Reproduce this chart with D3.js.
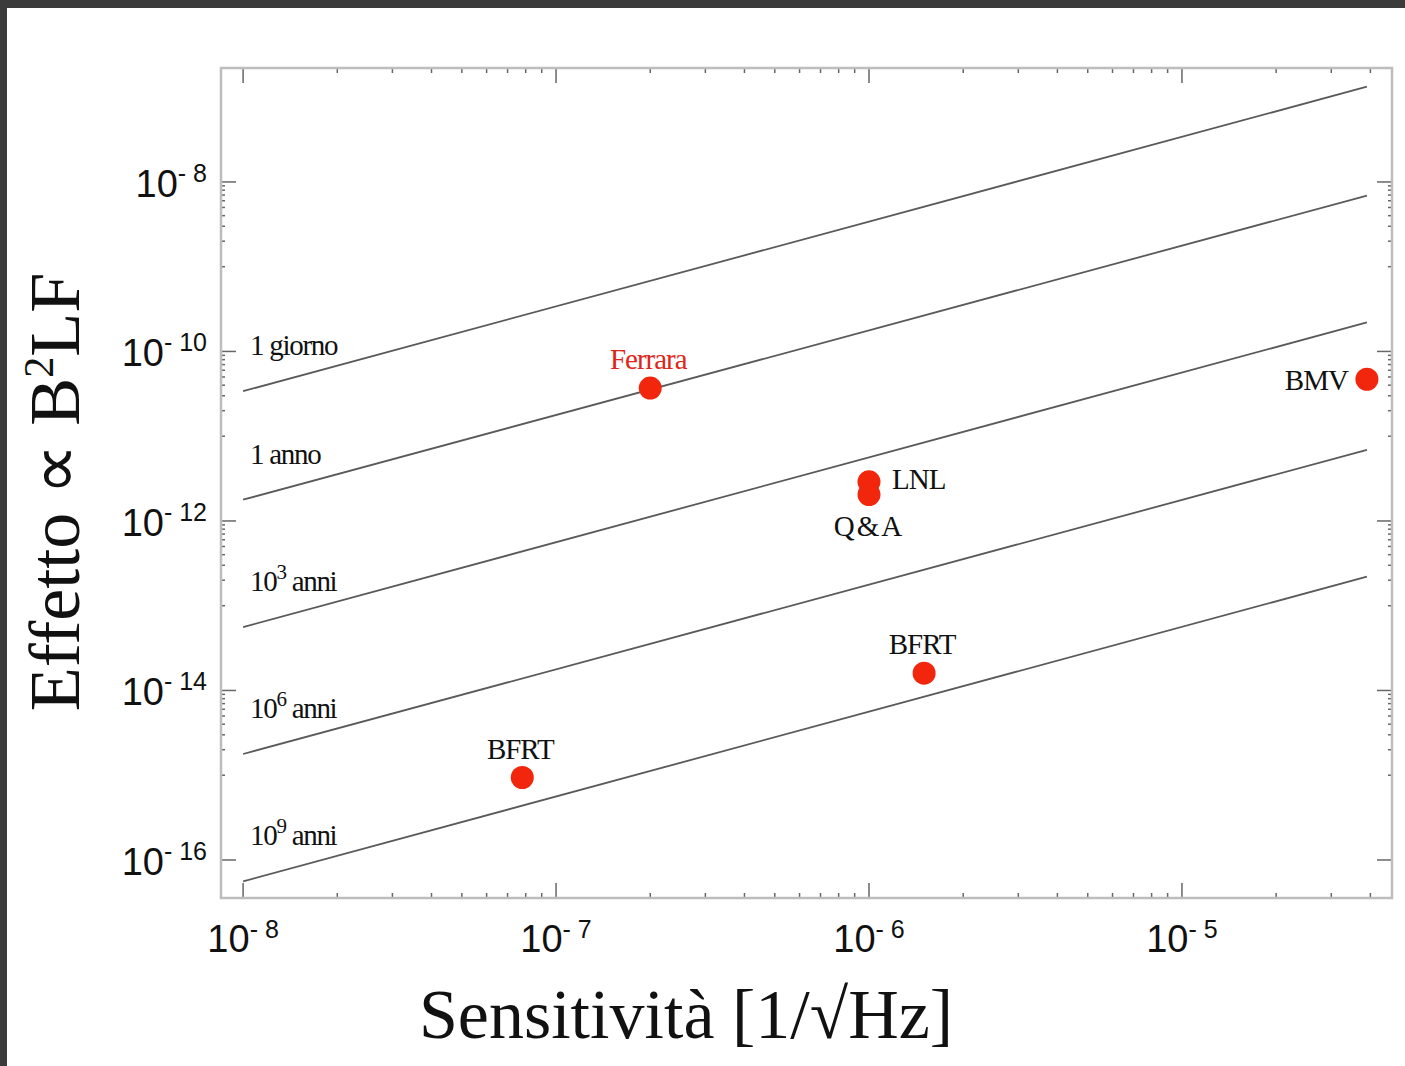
<!DOCTYPE html>
<html>
<head>
<meta charset="utf-8">
<script src="https://cdn.jsdelivr.net/npm/d3@7"></script>
<style>
  html, body { margin: 0; padding: 0; background: #3b3b3b; }
  svg { display: block; }
</style>
</head>
<body>
<svg id="chart" width="1405" height="1066"></svg>
<script>
// ---- data ----
const xDomain = [8.5e-9, 4.69e-5];
const yDomain = [3.56e-17, 2.21e-7];
const xMajorExps = [-8, -7, -6, -5];
const yMajorExps = [-8, -10, -12, -14, -16];

const lineX = [1e-8, 3.9e-5];
const lineNames = ["1 giorno", "1 anno", "10", "10", "10"];
const lineSups = ["", "", "3", "6", "9"];
const lineTails = ["", "", " anni", " anni", " anni"];
const lineY = [
  [3.4e-11, 1.33e-7],
  [1.78e-12, 6.9e-9],
  [5.6e-14, 2.2e-10],
  [1.78e-15, 6.9e-12],
  [5.6e-17, 2.2e-13]
];

const pointNames = ["Ferrara", "BMV", "LNL", "Q&A", "BFRT", "BFRT"];
const pointX = [2e-7, 3.9e-5, 1e-6, 1e-6, 1.5e-6, 7.8e-8];
const pointY = [3.7e-11, 4.7e-11, 2.9e-12, 2.05e-12, 1.6e-14, 9.4e-16];
const pointLabelSide = ["above", "left", "right", "below", "above", "above"];

// ---- drawing ----
const svg = d3.select("#chart");
svg.append("rect").attr("x", 7).attr("y", 8).attr("width", 1398).attr("height", 1058).attr("fill", "#ffffff");

const L = 221, R = 1392, T = 68, B = 898;
const x = d3.scaleLog().domain(xDomain).range([L, R]);
const y = d3.scaleLog().domain(yDomain).range([B, T]);

const tickColor = "#666";
const g = svg.append("g");

const xMinor = [];
xMajorExps.forEach(k => { for (let m = 2; m <= 9; m++) { const v = m * Math.pow(10, k); if (v <= xDomain[1]) xMinor.push(v); } });
const xMajor = xMajorExps.map(k => Math.pow(10, k));
const yMinor = [];
yMajorExps.forEach(k => { if (k > -16) for (let m = 1; m <= 9; m++) yMinor.push(m * Math.pow(10, k - 1)); });
const yMajor = yMajorExps.map(k => Math.pow(10, k));

function vTicks(vals, len) {
  g.selectAll(null).data(vals).enter().append("line")
    .attr("x1", d => x(d)).attr("x2", d => x(d)).attr("y1", B).attr("y2", B - len)
    .attr("stroke", tickColor).attr("stroke-width", 1.5);
  g.selectAll(null).data(vals).enter().append("line")
    .attr("x1", d => x(d)).attr("x2", d => x(d)).attr("y1", T).attr("y2", T + len)
    .attr("stroke", tickColor).attr("stroke-width", 1.5);
}
function hTicks(vals, len) {
  g.selectAll(null).data(vals).enter().append("line")
    .attr("y1", d => y(d)).attr("y2", d => y(d)).attr("x1", L).attr("x2", L + len)
    .attr("stroke", tickColor).attr("stroke-width", 1.5);
  g.selectAll(null).data(vals).enter().append("line")
    .attr("y1", d => y(d)).attr("y2", d => y(d)).attr("x1", R).attr("x2", R - len)
    .attr("stroke", tickColor).attr("stroke-width", 1.5);
}
vTicks(xMinor, 5);
vTicks(xMajor, 15);
hTicks(yMinor, 4);
hTicks(yMajor, 15);

g.append("rect").attr("x", L).attr("y", T).attr("width", R - L).attr("height", B - T)
  .attr("fill", "none").attr("stroke", "#bdbdbd").attr("stroke-width", 2.5);

const sansFont = "'Liberation Sans', Arial, sans-serif";
const serif = "'Liberation Serif', 'Times New Roman', serif";
xMajorExps.forEach(k => {
  const t = svg.append("text").attr("x", x(Math.pow(10, k))).attr("y", 952)
    .attr("text-anchor", "middle").attr("font-family", sansFont).attr("font-size", 38).attr("fill", "#111");
  t.append("tspan").text("10");
  t.append("tspan").attr("dy", -14).attr("font-size", 25).text("- " + (-k));
});
yMajorExps.forEach(k => {
  const t = svg.append("text").attr("x", 207).attr("y", y(Math.pow(10, k)) + 15)
    .attr("text-anchor", "end").attr("font-family", sansFont).attr("font-size", 38).attr("fill", "#111");
  t.append("tspan").text("10");
  t.append("tspan").attr("dy", -15).attr("font-size", 25).text("- " + (-k));
});

const lineGen = d3.line().x(d => x(d[0])).y(d => y(d[1]));
lineY.forEach((ys, i) => {
  svg.append("path").datum([[lineX[0], ys[0]], [lineX[1], ys[1]]])
    .attr("d", lineGen).attr("fill", "none").attr("stroke", "#5a5a5a").attr("stroke-width", 1.8);
  const t = svg.append("text").attr("x", x(lineX[0]) + 7).attr("y", y(ys[0]) - 36)
    .attr("font-family", serif).attr("font-size", 29).attr("letter-spacing", -1.3).attr("fill", "#111");
  t.append("tspan").text(lineNames[i]);
  if (lineSups[i]) {
    t.append("tspan").attr("dy", -12).attr("font-size", 21).text(lineSups[i]);
    t.append("tspan").attr("dy", 12).text(lineTails[i]);
  }
});

const red = "#f2260c";
pointX.forEach((px, i) => {
  const cx = x(px), cy = y(pointY[i]);
  svg.append("circle").attr("cx", cx).attr("cy", cy).attr("r", 11.5).attr("fill", red);
  const side = pointLabelSide[i];
  let tx = cx, ty = cy, anchor = "middle";
  if (side === "above") { ty = cy - 19; tx = cx - 2; }
  if (side === "below") { ty = cy + 41; }
  if (side === "left") { tx = cx - 19; ty = cy + 11; anchor = "end"; }
  if (side === "right") { tx = cx + 23; ty = cy + 7; anchor = "start"; }
  svg.append("text").attr("x", tx).attr("y", ty).attr("text-anchor", anchor)
    .attr("font-family", serif).attr("font-size", 29)
    .attr("letter-spacing", pointNames[i] === "Q&A" ? 2 : -1)
    .attr("fill", pointNames[i] === "Ferrara" ? "#e0261a" : "#111")
    .text(pointNames[i]);
});

svg.append("text").attr("x", 686).attr("y", 1038).attr("text-anchor", "middle")
  .attr("font-family", serif).attr("font-size", 70).attr("fill", "#111")
  .text("Sensitività [1/√Hz]");
const yt = svg.append("text").attr("transform", "translate(79,492) rotate(-90)")
  .attr("text-anchor", "middle").attr("font-family", serif).attr("font-size", 72).attr("fill", "#111");
yt.append("tspan").text("Effetto ∝ B");
yt.append("tspan").attr("dy", -26).attr("font-size", 42).text("2");
yt.append("tspan").attr("dy", 26).text("LF");
</script>
</body>
</html>
